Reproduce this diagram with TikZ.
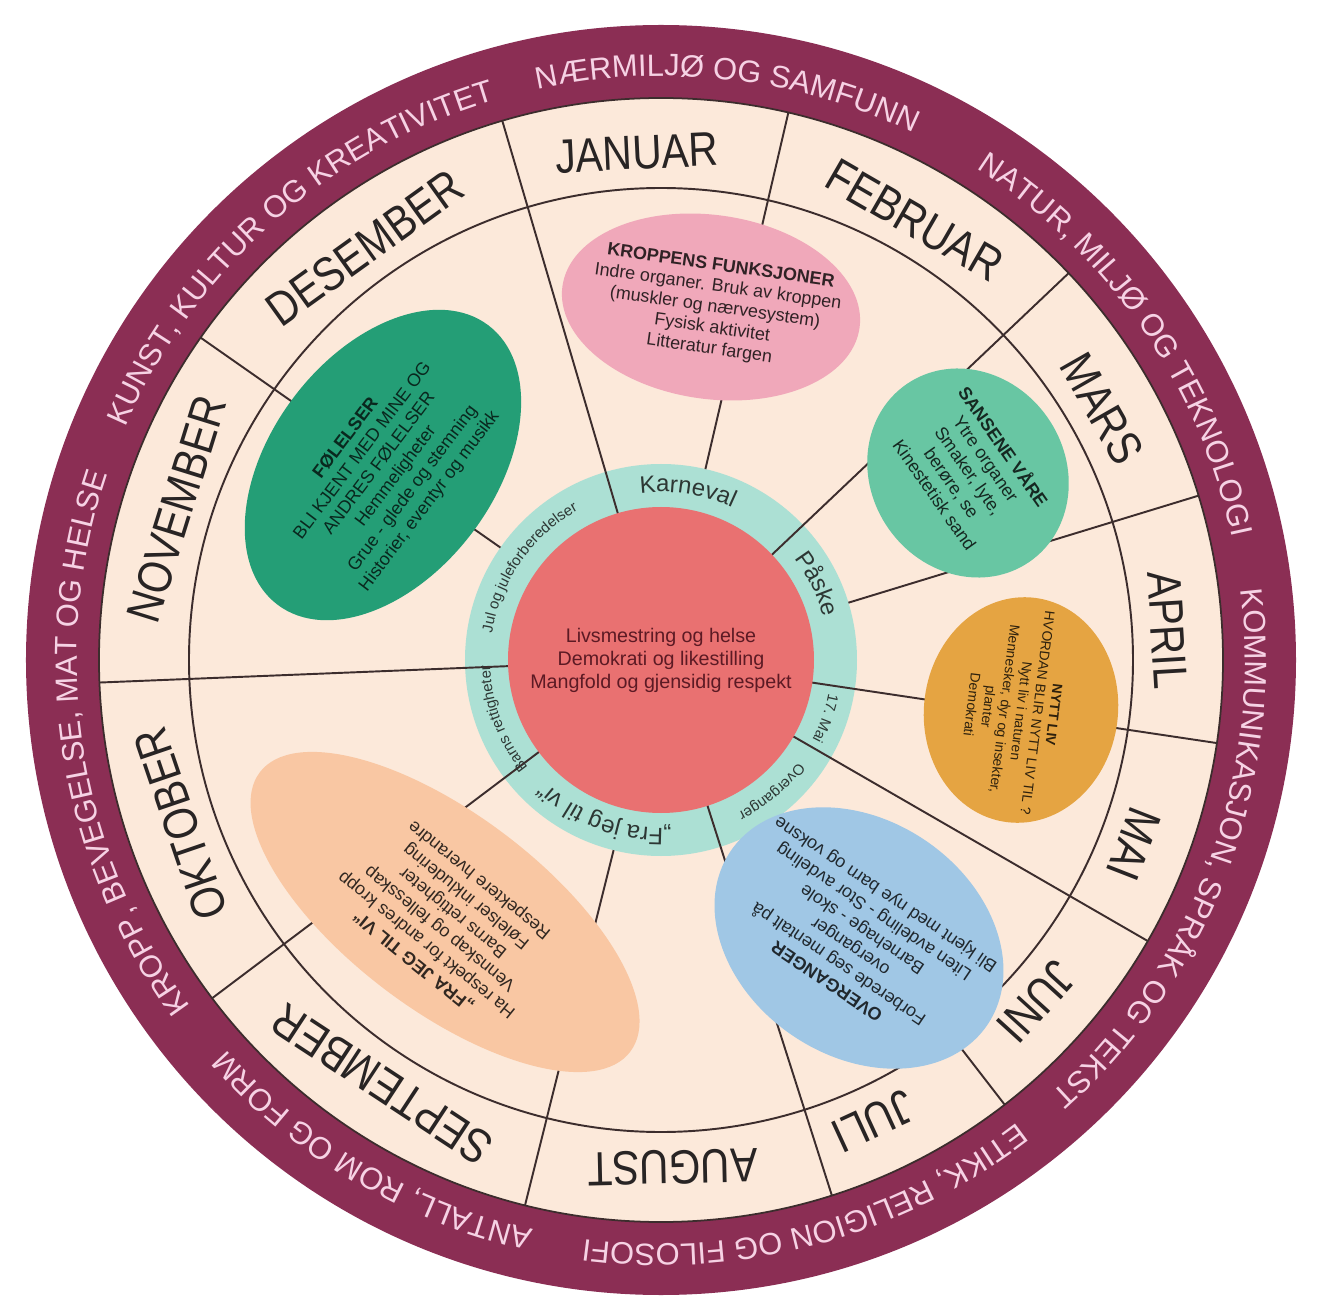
\documentclass[tikz,border=0pt]{standalone}
\usepackage{fontspec}
\setmainfont{Liberation Sans}
\newfontfamily\monthfont[FakeStretch=0.85]{Liberation Sans}
\usepackage{xcolor}
\usepackage{tikz}
\usetikzlibrary{decorations.text}

\definecolor{ringmaroon}{RGB}{139,46,84}
\definecolor{ringpink}{RGB}{246,210,228}
\definecolor{beige}{RGB}{252,233,218}
\definecolor{tealring}{RGB}{172,224,212}
\definecolor{redcore}{RGB}{233,113,113}
\definecolor{wline}{RGB}{60,45,45}
\definecolor{monthtext}{RGB}{40,36,36}
\definecolor{tealtext}{RGB}{45,55,52}
\definecolor{coretext}{RGB}{92,26,36}
\definecolor{folcol}{RGB}{36,158,118}
\definecolor{kropcol}{RGB}{240,168,186}
\definecolor{sanscol}{RGB}{104,198,163}
\definecolor{livcol}{RGB}{229,164,66}
\definecolor{overcol}{RGB}{160,199,229}
\definecolor{fracol}{RGB}{249,199,163}

\begin{document}
\begin{tikzpicture}[
  spoke/.style={draw=wline, line width=1.1pt},
  month/.style={font=\monthfont\fontsize{27.3pt}{30pt}\selectfont, text=monthtext},
  blob/.style={align=center, font=\fontsize{10.2pt}{11.9pt}\selectfont},
  outerlabel/.style={decorate, decoration={text along path, text align=center, text color=ringpink, text={|\fontsize{17.6pt}{20pt}\selectfont|#1}}},
  tealbig/.style={decorate, decoration={text along path, text align=center, text color=tealtext, text={|\fontsize{13.6pt}{15pt}\selectfont|#1}}},
  tealsmall/.style={decorate, decoration={text along path, text align=center, text color=tealtext, text={|\fontsize{8.5pt}{10pt}\selectfont|#1}}}
]
\useasboundingbox (-13.22,-12.98) rectangle (13.22,13.2);

% Draw rings
\fill[ringmaroon] (0,0) circle (12.7);
\filldraw[fill=beige, draw=wline, line width=1pt] (0,0) circle (11.24);
\fill[tealring] (0,0) circle (3.92);

% Draw spokes
\foreach \a in {106.4,43.5,-8.5,-30,-72.3,-143,-177.7}
  \draw[spoke] (\a:3.0) -- (\a:11.24);
\foreach \a in {76.9,17,-52.3,-104,145}
  \draw[spoke] (\a:3.92) -- (\a:11.24);
\draw[spoke] (0,0) circle (9.44);
\fill[redcore] (0,0) circle (3.06);

% Month names
\foreach \ang/\mname in {92.7/JANUAR, 60/FEBRUAR, 29.7/MARS, 3.4/APRIL, -21.3/MAI, -42.3/JUNI, -65.3/JULI, -88.7/AUGUST, -123.3/SEPTEMBER, -161.2/OKTOBER, 162.7/NOVEMBER, 125.7/DESEMBER}
  \node[month, rotate=\ang-90] (m-\mname) at (\ang:10.15) {\mname};

% Outer ring labels
\path[outerlabel={NÆRMILJØ OG SAMFUNN}] (143.3:11.68) arc[start angle=143.3, end angle=23.3, radius=11.68];
\path[outerlabel={NATUR{,} MILJØ OG TEKNOLOGI}] (94.7:11.68) arc[start angle=94.7, end angle=-25.3, radius=11.68];
\path[outerlabel={KOMMUNIKASJON{,} SPRÅK OG TEKST}] (39.4:11.68) arc[start angle=39.4, end angle=-80.6, radius=11.68];
\path[outerlabel={ETIKK{,} RELIGION OG FILOSOFI}] (-15:11.68) arc[start angle=-15, end angle=-135, radius=11.68];
\path[outerlabel={ANTALL{,} ROM OG FORM}] (-60.4:11.68) arc[start angle=-60.4, end angle=-180.4, radius=11.68];
\path[outerlabel={KROPP{,} BEVEGELSE{,} MAT OG HELSE}] (248.9:11.68) arc[start angle=248.9, end angle=128.9, radius=11.68];
\path[outerlabel={KUNST{,} KULTUR OG KREATIVITET}] (191.5:11.68) arc[start angle=191.5, end angle=71.5, radius=11.68];

% Teal ring labels
\path[tealbig={Karneval}] (131:3.36) arc[start angle=131, end angle=31, radius=3.36];
\path[tealbig={Påske}] (76:3.36) arc[start angle=76, end angle=-24, radius=3.36];
\path[tealsmall={17. Mai}] (30.5:3.42) arc[start angle=30.5, end angle=-69.5, radius=3.42];
\path[tealsmall={Overganger}] (0:3.42) arc[start angle=0, end angle=-100, radius=3.42];
\path[tealbig={„Fra jeg til vi“}] (-60:3.36) arc[start angle=-60, end angle=-160, radius=3.36];
\path[tealsmall={Barns rettigheter}] (-109.6:3.42) arc[start angle=-109.6, end angle=-209.6, radius=3.42];
\path[tealsmall={Jul og juleforberedelser}] (195:3.42) arc[start angle=195, end angle=95, radius=3.42];

% Centre
\node[align=center, text=coretext, font=\fontsize{11.2pt}{13.1pt}\selectfont] (core) at (0,0) {Livsmestring og helse\\Demokrati og likestilling\\Mangfold og gjensidig respekt};

% Theme ellipses
\coordinate (c-fol) at (-5.56,3.90);
\coordinate (c-krop) at (1.00,7.06);
\coordinate (c-sans) at (6.14,3.74);
\coordinate (c-liv) at (7.20,-1.00);
\coordinate (c-over) at (3.96,-5.56);
\coordinate (c-fra) at (-4.32,-5.04);
\fill[folcol, rotate around={53:(c-fol)}] (c-fol) ellipse [x radius=3.5, y radius=2.24];
\fill[kropcol, rotate around={-8:(c-krop)}] (c-krop) ellipse [x radius=3.0, y radius=1.84];
\fill[sanscol, rotate around={-55:(c-sans)}] (c-sans) ellipse [x radius=2.16, y radius=1.94];
\fill[livcol, rotate around={-97:(c-liv)}] (c-liv) ellipse [x radius=2.26, y radius=1.94];
\fill[overcol, rotate around={146:(c-over)}] (c-over) ellipse [x radius=3.1, y radius=2.36];
\fill[fracol, rotate around={143:(c-fra)}] (c-fra) ellipse [x radius=4.64, y radius=1.96];

\node[blob, rotate=53, text=folcol!25!black] (folelser) at (-5.46,3.80) {\textbf{FØLELSER}\\BLI KJENT MED MINE OG\\ANDRES FØLELSER\\Hemmeligheter\\Grue - glede og stemning\\Historier, eventyr og musikk};
\node[blob, rotate=-8, text=kropcol!20!black] (kroppen) at (1.08,7.04) {\textbf{KROPPENS FUNKSJONER}\\Indre organer. Bruk av kroppen\\(muskler og nærvesystem)\\Fysisk aktivitet\\Litteratur fargen};
\node[blob, rotate=-55, text=sanscol!20!black] (sansene) at (6.18,3.80) {\textbf{SANSENE VÅRE}\\Ytre organer\\Smaker, lyte,\\berøre, se\\Kinestetisk sand};
\node[blob, rotate=-97, text=livcol!20!black, font=\fontsize{7.9pt}{9.4pt}\selectfont] (nyttliv) at (7.04,-1.00) {\textbf{NYTT LIV}\\HVORDAN BLIR NYTT LIV TIL ?\\Nytt liv i naturen\\Mennesker, dyr og insekter,\\planter\\Demokrati};
\node[blob, rotate=146, text=overcol!20!black] (overganger) at (3.92,-5.54) {\textbf{OVERGANGER}\\Forberede seg mentalt på\\overganger\\Barnehage - skole\\Liten avdeling - Stor avdeling\\Bli kjent med nye barn og voksne};
\node[blob, rotate=141, text=fracol!20!black] (frajeg) at (-4.28,-5.2) {\textbf{„FRA JEG TIL VI“}\\Ha respekt for andres kropp\\Vennskap og fellesskap\\Barns rettigheter\\Følelser inkludering\\Respektere hverandre};

\end{tikzpicture}
\end{document}
